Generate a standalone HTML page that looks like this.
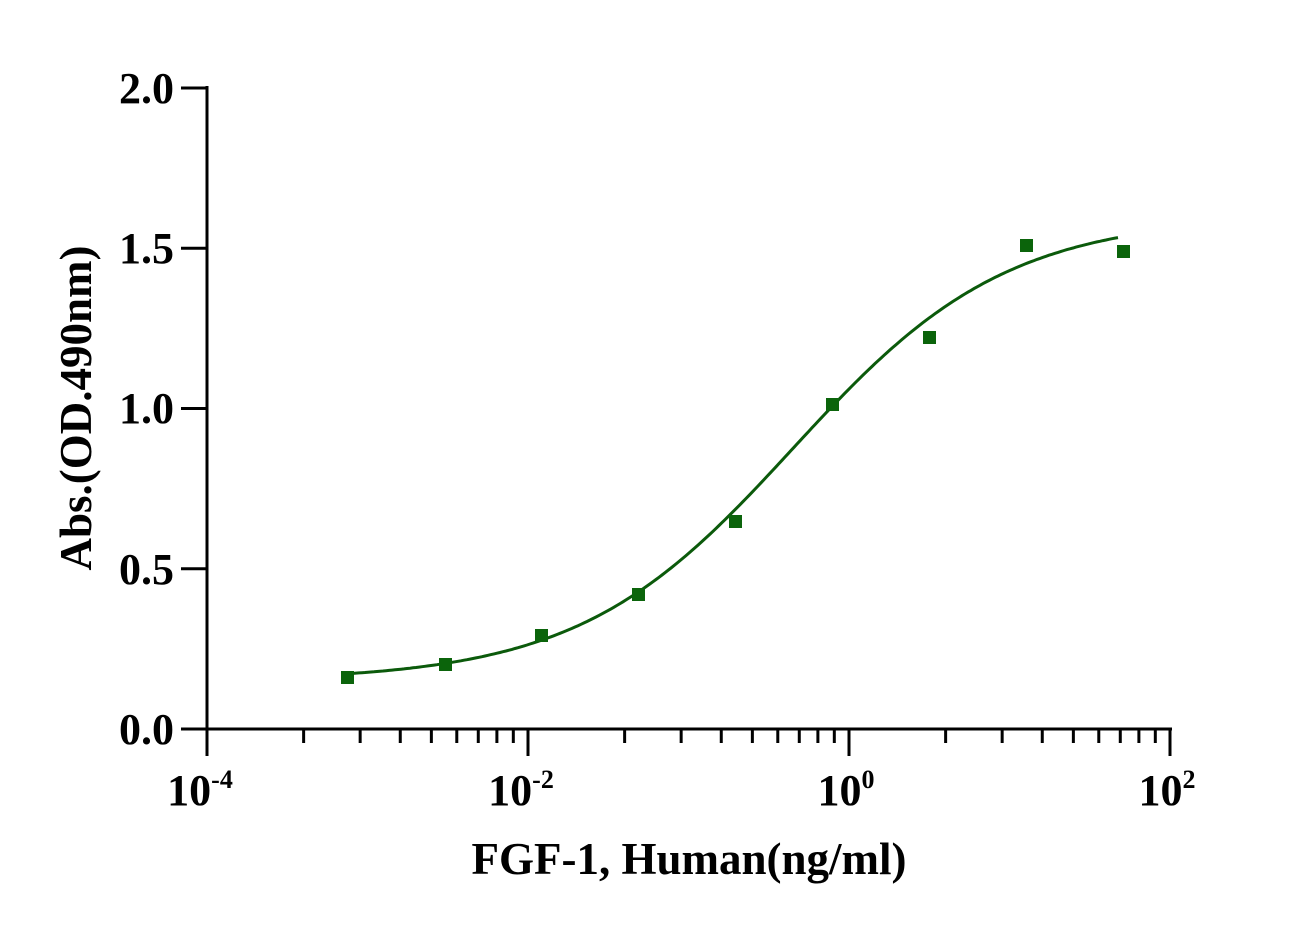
<!DOCTYPE html>
<html><head><meta charset="utf-8"><style>
html,body{margin:0;padding:0;background:#fff;}
svg text{font-family:"Liberation Serif",serif;font-weight:bold;fill:#000;}
</style></head><body>
<svg id="s" width="1306" height="930" xmlns="http://www.w3.org/2000/svg">
<g stroke="#000" stroke-width="3" fill="none">
<line x1="207" y1="86" x2="207" y2="730"/>
<line x1="181" y1="729" x2="1172" y2="729"/>
<line x1="181" y1="88" x2="207" y2="88"/>
<line x1="181" y1="248.25" x2="207" y2="248.25"/>
<line x1="181" y1="408.5" x2="207" y2="408.5"/>
<line x1="181" y1="568.75" x2="207" y2="568.75"/>
</g>
<g id="xt" stroke="#000" stroke-width="3"></g>
<g font-size="44" text-anchor="end">
<text x="174" y="103">2.0</text>
<text x="174" y="263">1.5</text>
<text x="174" y="423">1.0</text>
<text x="174" y="584">0.5</text>
<text x="174" y="744">0.0</text>
</g>
<g font-size="44" text-anchor="middle">
<text x="200" y="805">10<tspan font-size="26" dy="-17">-4</tspan></text>
<text x="521" y="805">10<tspan font-size="26" dy="-17">-2</tspan></text>
<text x="846" y="805">10<tspan font-size="26" dy="-17">0</tspan></text>
<text x="1167" y="805">10<tspan font-size="26" dy="-17">2</tspan></text>
</g>
<text x="689" y="874" font-size="45" text-anchor="middle">FGF-1, Human(ng/ml)</text>
<text transform="translate(91,408) rotate(-90)" font-size="45" text-anchor="middle">Abs.(OD.490nm)</text>
<path id="c" fill="none" stroke="#0b5a0b" stroke-width="3"/>
<g fill="#0b640b">
<rect x="341" y="671" width="13" height="13"/>
<rect x="439" y="658" width="13" height="13"/>
<rect x="535" y="629" width="13" height="13"/>
<rect x="632" y="588" width="13" height="13"/>
<rect x="729" y="515" width="13" height="13"/>
<rect x="826" y="398" width="13" height="13"/>
<rect x="923" y="331" width="13" height="13"/>
<rect x="1020" y="239" width="13" height="13"/>
<rect x="1117" y="245" width="13" height="13"/>
</g>
</svg>
<script>
var ns="http://www.w3.org/2000/svg",g=document.getElementById("xt");
for(var s=0;s<3;s++){
 var x0=207+321*s;
 for(var k=1;k<=9;k++){
  var x=x0+321*Math.log10(k),len=(k==1)?27:14;
  var ln=document.createElementNS(ns,"line");
  ln.setAttribute("x1",x);ln.setAttribute("x2",x);ln.setAttribute("y1",729);ln.setAttribute("y2",729+len);
  g.appendChild(ln);
 }
}
var ln=document.createElementNS(ns,"line");
ln.setAttribute("x1",1170);ln.setAttribute("x2",1170);ln.setAttribute("y1",729);ln.setAttribute("y2",756);g.appendChild(ln);
var p="";
for(var px=341;px<=1120;px+=3){
 var l=(px-849)/160.5;
 var y=0.15+1.45/(1+Math.pow(10,0.65*(-0.35-l)));
 p+=(p?"L":"M")+px+","+(729-y*320.5).toFixed(1);
}
document.getElementById("c").setAttribute("d",p);
</script>
</body></html>
